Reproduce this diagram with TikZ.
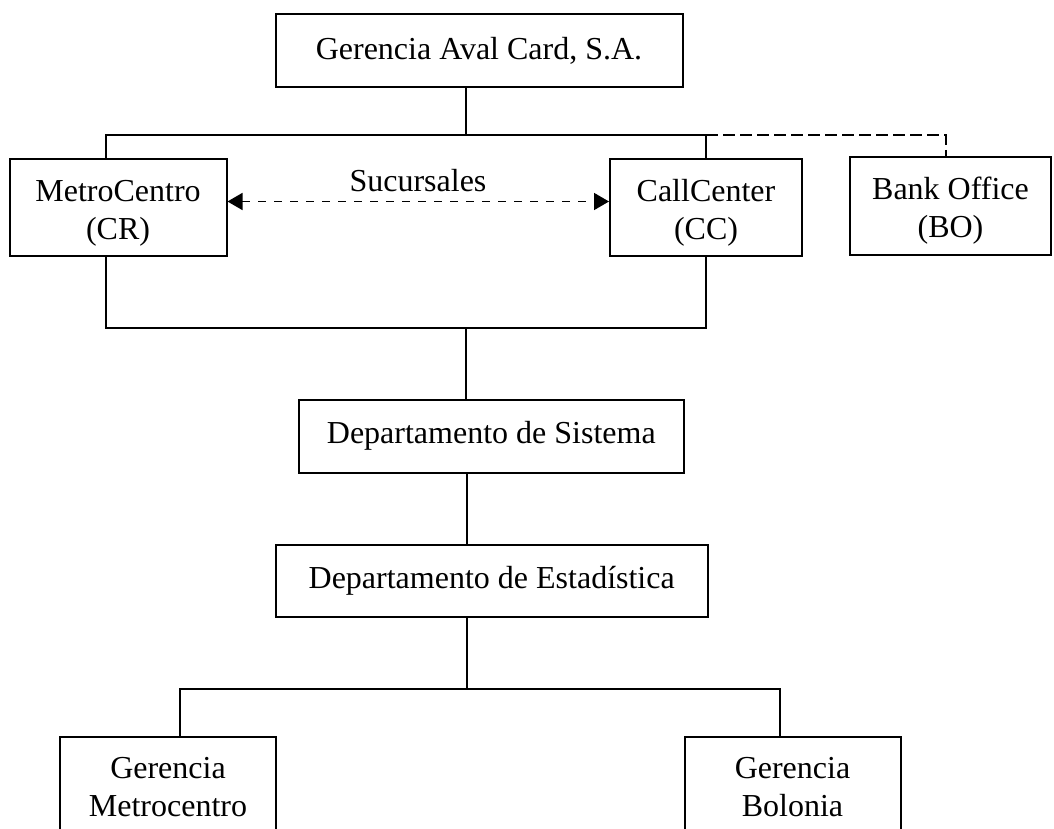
\documentclass[tikz,border=0pt]{standalone}
\usepackage{fontspec}
\setmainfont{Liberation Serif}
\usepackage{tikz}
\usetikzlibrary{arrows.meta,positioning}

\newcommand{\lowstrut}{\rule{0pt}{32pt}}

\tikzset{
    orgbox/.style={
        draw=black,
        fill=white,
        line width=2pt,
        inner sep=0pt,
        align=center,
        font=\fontsize{32}{38}\selectfont
    },
    orgline/.style={draw=black, line width=2pt},
    orgdash/.style={draw=black, line width=2pt, dash pattern=on 12pt off 5pt},
    sucarrow/.style={
        draw=black,
        line width=1.6pt,
        dash pattern=on 8pt off 8pt,
        {Triangle[length=15pt,width=17pt]}-{Triangle[length=15pt,width=17pt]}
    }
}

\begin{document}
\begin{tikzpicture}[x=1pt,y=-1pt]
    \useasboundingbox (0,0) rectangle (1054,829);
    \fill[white] (0,0) rectangle (1054,829);
    \clip (0,0) rectangle (1054,829);

    % Gerencia
    \node[orgbox, minimum width=407pt, minimum height=73pt] (top) at (479,50.5) {Gerencia Aval Card, S.A.};

    % Sucursales
    \node[orgbox, minimum width=217pt, minimum height=97pt] (mc) at (118,207.5) {\lowstrut MetroCentro\\(CR)};
    \node[orgbox, minimum width=192pt, minimum height=97pt] (cc) at (706,207.5) {\lowstrut CallCenter\\(CC)};
    \node[orgbox, minimum width=201pt, minimum height=98pt] (bo) at (950.5,206) {\lowstrut Bank Office\\(BO)};

    % Departamentos
    \node[orgbox, minimum width=385pt, minimum height=73pt] (sis) at (491.3,436.3) {Departamento de Sistema};
    \node[orgbox, minimum width=432pt, minimum height=72pt] (est) at (491.7,581) {Departamento de Estadística};

    % Gerencias
    \node[orgbox, minimum width=216pt, minimum height=100pt] (gm) at (168,787) {Gerencia\\Metrocentro};
    \node[orgbox, minimum width=216pt, minimum height=100pt] (gb) at (792.5,787) {Gerencia\\Bolonia};

    % Buses
    \coordinate (j1) at (466,135);
    \coordinate (b1l) at (105.5,135);
    \coordinate (b1r) at (946,135);
    \coordinate (j2) at (466,328);
    \coordinate (j3) at (467,689);
    \coordinate (b3l) at (180,689);
    \coordinate (b3r) at (780,689);

    \draw[orgline] (top.south -| j1) -- (j1);
    \draw[orgline] (mc.north -| b1l) -- (b1l) -- (cc.north |- b1l) -- (cc.north);
    \draw[orgdash] (cc.north |- b1r) -- (b1r) -- (bo.north -| b1r);
    \draw[orgline] (mc.south -| b1l) |- (cc.south |- j2) -- (cc.south);
    \draw[orgline] (j2) -- (sis.north -| j2);
    \draw[orgline] (sis.south -| j3) -- (est.north -| j3);
    \draw[orgline] (est.south -| j3) -- (j3);
    \draw[orgline] (gm.north -| b3l) -- (b3l) -- (b3r) -- (gb.north -| b3r);

    % Sucursales arrow
    \draw[sucarrow] ([yshift=6pt]mc.east) -- ([yshift=6pt]cc.west);
    \node[font=\fontsize{32}{38}\selectfont, inner sep=0pt, anchor=base] (suc) at (418,192) {Sucursales};
\end{tikzpicture}
\end{document}
